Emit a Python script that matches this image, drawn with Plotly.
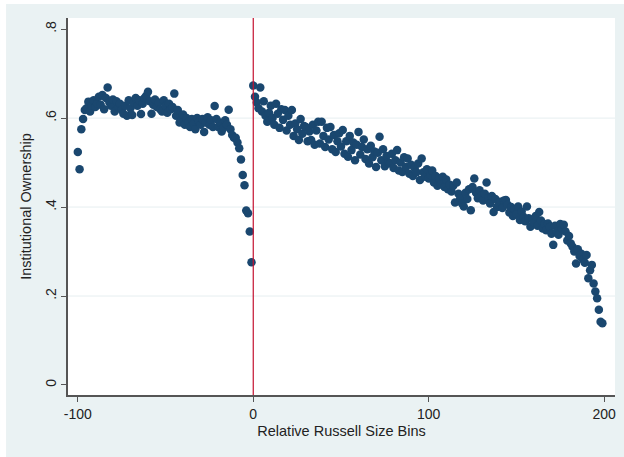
import plotly.graph_objects as go

# Left side of the Russell cutoff (bins -100 .. -1)
x_left = list(range(-100, 0))
y_left = [
    0.524, 0.485, 0.575, 0.598, 0.618, 0.622, 0.637, 0.615, 0.628, 0.640,
    0.625, 0.632, 0.648, 0.630, 0.652, 0.620, 0.645, 0.669, 0.635, 0.628,
    0.642, 0.615, 0.638, 0.625, 0.632, 0.618, 0.610, 0.628, 0.605, 0.640,
    0.622, 0.607, 0.635, 0.645, 0.628, 0.640, 0.609, 0.632, 0.645, 0.650,
    0.659, 0.638, 0.610, 0.630, 0.642, 0.625, 0.635, 0.620, 0.615, 0.640,
    0.628, 0.612, 0.632, 0.620, 0.625, 0.655, 0.605, 0.618, 0.590, 0.595,
    0.608, 0.585, 0.600, 0.592, 0.580, 0.598, 0.588, 0.575, 0.600, 0.592,
    0.585, 0.598, 0.569, 0.590, 0.602, 0.585, 0.595, 0.580, 0.627, 0.598,
    0.580, 0.590, 0.570, 0.578, 0.595, 0.585, 0.619, 0.575, 0.562, 0.556,
    0.556, 0.545, 0.532, 0.507, 0.472, 0.449, 0.392, 0.386, 0.345, 0.276,
]

# Right side of the cutoff (bins 0 .. 199)
x_right = list(range(0, 200))
y_right = [
    0.673, 0.648, 0.635, 0.622, 0.669, 0.615, 0.638, 0.605, 0.592, 0.612,
    0.628, 0.600, 0.585, 0.632, 0.610, 0.578, 0.620, 0.596, 0.618, 0.572,
    0.605, 0.585, 0.618, 0.560, 0.588, 0.575, 0.551, 0.598, 0.565, 0.582,
    0.580, 0.548, 0.570, 0.551, 0.585, 0.540, 0.572, 0.592, 0.543, 0.592,
    0.560, 0.535, 0.578, 0.552, 0.580, 0.530, 0.562, 0.524, 0.548, 0.566,
    0.536, 0.573, 0.520, 0.548, 0.513, 0.560, 0.528, 0.545, 0.505, 0.540,
    0.569, 0.518, 0.535, 0.552, 0.508, 0.530, 0.498, 0.538, 0.512, 0.525,
    0.490, 0.522, 0.558, 0.505, 0.530, 0.492, 0.515, 0.500, 0.498, 0.520,
    0.488, 0.505, 0.528, 0.482, 0.500, 0.479, 0.512, 0.490, 0.509, 0.475,
    0.495, 0.470, 0.488, 0.478, 0.498, 0.461, 0.509, 0.478, 0.468, 0.485,
    0.464, 0.472, 0.482, 0.455, 0.470, 0.448, 0.465, 0.452, 0.468, 0.445,
    0.462, 0.440, 0.450, 0.435, 0.448, 0.410, 0.455, 0.430, 0.420, 0.408,
    0.401, 0.432, 0.418, 0.440, 0.393, 0.445, 0.464, 0.432, 0.420, 0.438,
    0.425, 0.415, 0.430, 0.455, 0.420, 0.408, 0.425, 0.389, 0.418, 0.400,
    0.410, 0.412, 0.398, 0.415, 0.416, 0.405, 0.388, 0.400, 0.380, 0.395,
    0.385, 0.401, 0.371, 0.390, 0.378, 0.368, 0.401, 0.375, 0.356, 0.372,
    0.365, 0.380, 0.358, 0.389, 0.370, 0.352, 0.362, 0.348, 0.363, 0.355,
    0.340, 0.315, 0.358, 0.345, 0.338, 0.362, 0.352, 0.360, 0.345, 0.325,
    0.335, 0.318, 0.311, 0.300, 0.273, 0.305, 0.290, 0.295, 0.282, 0.275,
    0.292, 0.240, 0.258, 0.270, 0.228, 0.210, 0.195, 0.169, 0.142, 0.139,
]

x_ticks = [-100, 0, 100, 200]
x_ticklabels = ["-100", "0", "100", "200"]
y_ticks = [0, 0.2, 0.4, 0.6, 0.8]
y_ticklabels = ["0", ".2", ".4", ".6", ".8"]
grid_levels = [0.2, 0.4, 0.6]
cutoff = [0]

NAVY = "#1a476f"
BG = "#eaf2f3"
AXIS = "#555555"
FONT = "Liberation Sans, Arial, Helvetica, sans-serif"

fig = go.Figure()
fig.add_trace(go.Scatter(
    x=x_left + x_right, y=y_left + y_right, mode="markers",
    marker=dict(color=NAVY, size=8.5, line=dict(width=0)),
    showlegend=False, hoverinfo="x+y",
))

shapes = []
for g in grid_levels:
    shapes.append(dict(type="line", xref="paper", yref="y", x0=0, x1=1, y0=g, y1=g,
                       line=dict(color="#e6eef0", width=1), layer="below"))
for c in cutoff:
    shapes.append(dict(type="line", xref="x", yref="paper", x0=c, x1=c, y0=0, y1=1,
                       line=dict(color="#c41230", width=1.2)))
# thin white margins at left and top of the image
shapes.append(dict(type="rect", xref="paper", yref="paper",
                   x0=-68 / 547.5, x1=-62 / 547.5, y0=-0.2, y1=1.2,
                   fillcolor="white", line=dict(width=0)))
shapes.append(dict(type="rect", xref="paper", yref="paper",
                   x0=-0.2, x1=1.1, y0=1 + 14 / 377, y1=1 + 18.5 / 377,
                   fillcolor="white", line=dict(width=0)))

fig.update_layout(
    width=624, height=457,
    margin=dict(l=68, r=8.5, t=18, b=62),
    paper_bgcolor=BG, plot_bgcolor="white",
    font=dict(family=FONT, size=14, color="#222222"),
    shapes=shapes,
    xaxis=dict(
        range=[-105.6, 206.2], tickvals=x_ticks, ticktext=x_ticklabels,
        showgrid=False, zeroline=False, showline=True, linecolor=AXIS, linewidth=1.5,
        ticks="outside", ticklen=5, tickcolor=AXIS, tickwidth=1,
        title=dict(text="Relative Russell Size Bins", font=dict(size=14.5), standoff=5),
        automargin=False,
    ),
    yaxis=dict(
        range=[-0.0225, 0.825], tickvals=y_ticks, ticktext=y_ticklabels,
        tickangle=-90,
        showgrid=False, zeroline=False, showline=True, linecolor=AXIS, linewidth=1.5,
        ticks="outside", ticklen=5, tickcolor=AXIS, tickwidth=1,
        title=dict(text="Institutional Ownership", font=dict(size=14.5), standoff=8),
        automargin=False,
    ),
)

fig.write_html("out.html")
